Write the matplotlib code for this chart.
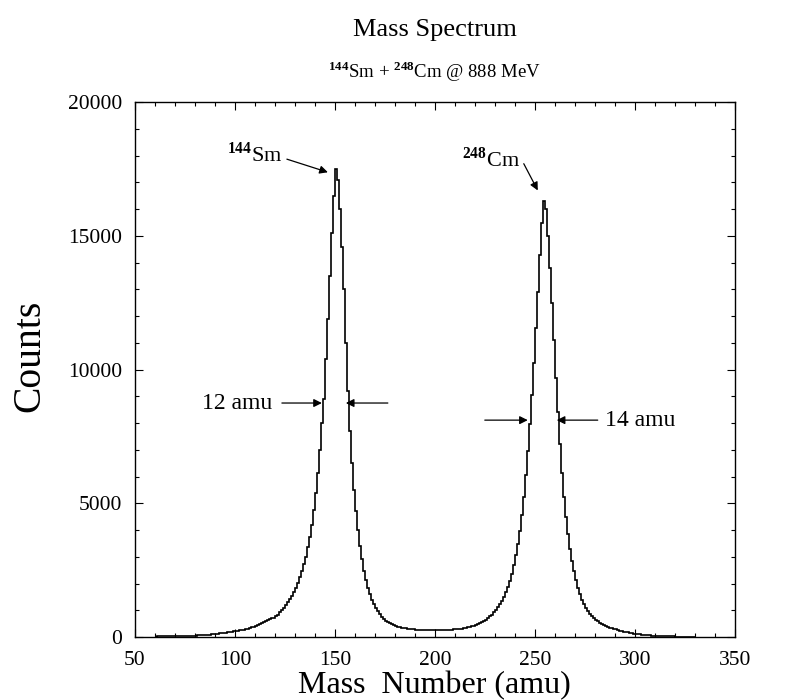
import numpy as np
import matplotlib
matplotlib.use("Agg")
from matplotlib import pyplot as plt
from matplotlib.ticker import MultipleLocator

plt.rcParams["font.family"] = ["Liberation Serif", "DejaVu Serif"]
plt.rcParams["mathtext.fontset"] = "custom"
plt.rcParams["mathtext.rm"] = "Liberation Serif"
plt.rcParams["mathtext.bf"] = "Liberation Serif:bold"

# 1 amu wide bins, left edges 60 ... 329
mass_bins = np.arange(60, 330)

counts = [
    18, 19, 20, 21, 22, 23, 24, 25, 27, 28,                      # 60
    30, 32, 34, 36, 38, 40, 43, 46, 49, 52,                      # 70
    56, 60, 64, 69, 74, 80, 86, 93, 100, 108,                    # 80
    117, 126, 136, 146, 157, 168, 180, 192, 204, 212,            # 90
    220, 232, 245, 260, 275, 295, 315, 340, 365, 390,            # 100
    420, 450, 480, 515, 550, 590, 630, 670, 710, 720,            # 110
    770, 840, 920, 1000, 1090, 1190, 1300, 1420, 1550, 1700,     # 120
    1850, 2030, 2230, 2460, 2720, 3010, 3350, 3750, 4200, 4750,  # 130
    5400, 6150, 7000, 8000, 8900, 10400, 11900, 13500, 15100, 16500,  # 140
    17500, 17100, 16000, 14600, 13000, 11000, 9200, 7700, 6500, 5500,  # 150
    4700, 4000, 3400, 2900, 2480, 2130, 1840, 1600, 1400, 1230,  # 160
    1090, 960, 850, 760, 680, 615, 560, 515, 475, 440,           # 170
    410, 385, 365, 345, 330, 318, 306, 296, 288, 281,            # 180
    275, 270, 266, 262, 259, 257, 255, 254, 253, 253,            # 190
    253, 254, 256, 258, 261, 264, 268, 272, 277, 283,            # 200
    290, 298, 307, 317, 329, 343, 359, 377, 398, 422,            # 210
    450, 480, 515, 555, 600, 650, 705, 770, 840, 920,            # 220
    1010, 1110, 1220, 1350, 1500, 1670, 1870, 2100, 2370, 2680,  # 230
    3050, 3480, 3980, 4560, 5250, 6050, 6950, 7950, 9050, 10250,  # 240
    11550, 12900, 14300, 15500, 16300, 16000, 15000, 13800, 12500, 11100,  # 250
    9700, 8400, 7200, 6150, 5250, 4500, 3850, 3300, 2850, 2460,  # 260
    2130, 1850, 1610, 1400, 1220, 1090, 970, 870, 785, 710,      # 270
    645, 590, 540, 495, 455, 420, 385, 355, 330, 305,            # 280
    282, 260, 240, 220, 202, 185, 169, 154, 140, 128,            # 290
    116, 105, 95, 86, 78, 71, 64, 58, 53, 48,                    # 300
    44, 40, 36, 33, 30, 27, 25, 23, 21, 19,                      # 310
    18, 17, 16, 15, 14, 13, 12, 11, 10, 10,                      # 320
]

title = "Mass Spectrum"
subtitle = r"$^{\mathbf{144}}$Sm + $^{\mathbf{248}}$Cm @ 888 MeV"

fig = plt.figure(figsize=(7.87, 7.0), dpi=100)
left, bottom, width, height = 0.1715, 0.09, 0.762, 0.764
ax = fig.add_axes([left, bottom, width, height])

edges = np.append(mass_bins, mass_bins[-1] + 1)
ax.stairs(counts, edges, baseline=None, color="black", linewidth=1.2)

ax.set_xlim(50, 350)
ax.set_ylim(0, 20000)
ax.xaxis.set_major_locator(MultipleLocator(50))
ax.xaxis.set_minor_locator(MultipleLocator(10))
ax.yaxis.set_major_locator(MultipleLocator(5000))
ax.yaxis.set_minor_locator(MultipleLocator(1000))
ax.tick_params(which="both", direction="in", top=True, right=True,
               labelsize=15.5, width=0.8)
ax.tick_params(axis="x", pad=10)
ax.tick_params(axis="y", pad=9)
ax.tick_params(which="major", length=6)
ax.tick_params(which="minor", length=3)
for spine in ax.spines.values():
    spine.set_linewidth(1.0)

xc = left + width / 2
fig.text(xc, 1 - 30 / 700, title, ha="center", va="center", fontsize=19)
fig.text(xc, 1 - 72 / 700, subtitle, ha="center", va="center", fontsize=13.5)
fig.text(xc, 1 - 686 / 700, "Mass  Number (amu)", ha="center", va="center",
         fontsize=23)
fig.text(30 / 787, 1 - 356 / 700, "Counts", ha="center", va="center",
         rotation=90, fontsize=28.5)

arrow = dict(arrowstyle="-|>", color="black", lw=0.9,
             mutation_scale=12, shrinkA=0, shrinkB=0)

# peak labels
ax.text(124, 18050, r"$^{\mathbf{144}}$Sm", ha="right", va="center", fontsize=16)
ax.annotate("", xy=(146.5, 17380), xytext=(126, 17870), arrowprops=arrow)
ax.text(242.5, 17850, r"$^{\mathbf{248}}$Cm", ha="right", va="center", fontsize=16)
ax.annotate("", xy=(251.5, 16700), xytext=(244.5, 17700), arrowprops=arrow)

# FWHM markers
ax.text(118.5, 8750, "12 amu", ha="right", va="center", fontsize=17)
ax.annotate("", xy=(143.5, 8750), xytext=(123.5, 8750), arrowprops=arrow)
ax.annotate("", xy=(155.5, 8750), xytext=(176.5, 8750), arrowprops=arrow)

ax.text(285, 8110, "14 amu", ha="left", va="center", fontsize=17)
ax.annotate("", xy=(246.5, 8110), xytext=(225, 8110), arrowprops=arrow)
ax.annotate("", xy=(261, 8110), xytext=(281.5, 8110), arrowprops=arrow)

fig.savefig("out.png", dpi=100)
